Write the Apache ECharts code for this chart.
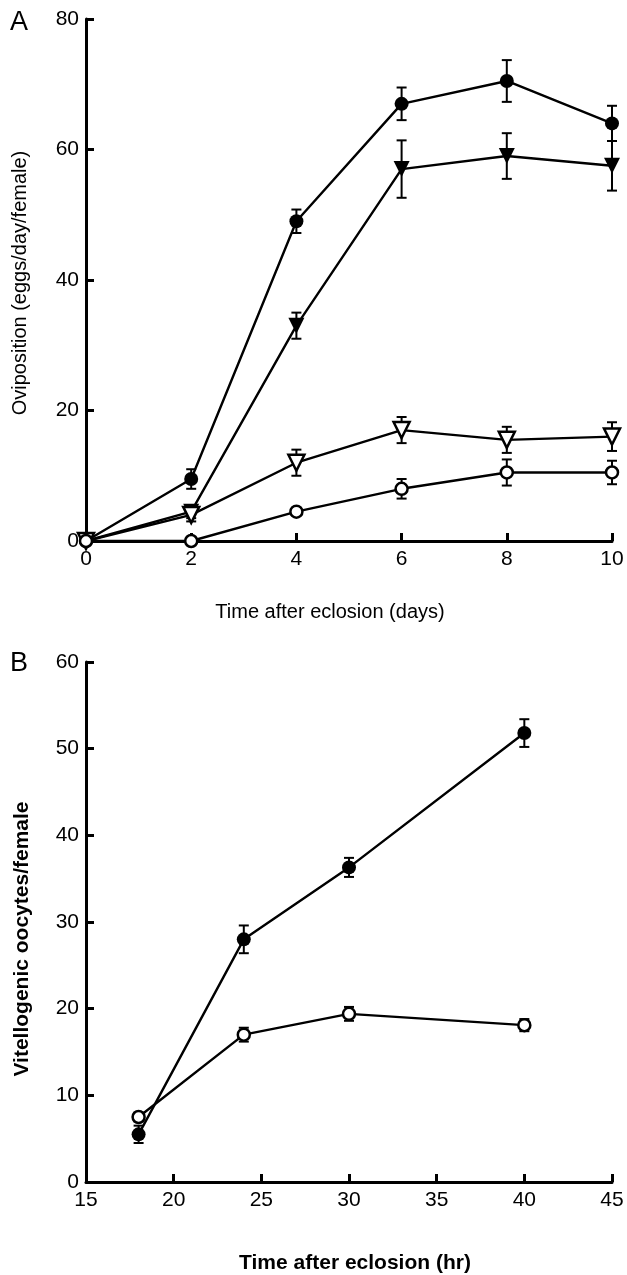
<!DOCTYPE html>
<html><head><meta charset="utf-8">
<script src="https://cdn.jsdelivr.net/npm/echarts@6/dist/echarts.min.js"></script>
<style>html,body{margin:0;padding:0;background:#fff}#c{width:627px;height:1275px}</style>
</head><body><div id="c"></div>
<script>
// Panel A: oviposition vs days
const daysA = [0, 2, 4, 6, 8, 10];
const aFilledCircle = [0, 9.5, 49, 67, 70.5, 64];
const aFilledCircleErr = [0, 1.5, 1.8, 2.5, 3.2, 2.7];
const aFilledTri = [0, 4.5, 33, 57, 59, 57.5];
const aFilledTriErr = [0, 1, 2, 4.4, 3.5, 3.8];
const aOpenTri = [0, 4, 12, 17, 15.5, 16];
const aOpenTriErr = [0, 1, 2, 2, 2, 2.2];
const aOpenCircle = [0, 0, 4.5, 8, 10.5, 10.5];
const aOpenCircleErr = [0, 0, 0.5, 1.5, 2, 1.8];
const aYTicks = [0, 20, 40, 60, 80];
const aXTicks = [0, 2, 4, 6, 8, 10];

// Panel B: vitellogenic oocytes vs hours
const hoursB = [18, 24, 30, 40];
const bFilledCircle = [5.5, 28, 36.3, 51.8];
const bFilledCircleErr = [1, 1.6, 1.1, 1.6];
const bOpenCircle = [7.5, 17, 19.4, 18.1];
const bOpenCircleErr = [0.5, 0.8, 0.8, 0.7];
const bYTicks = [0, 10, 20, 30, 40, 50, 60];
const bXTicks = [15, 20, 25, 30, 35, 40, 45];

const FONT = 'Liberation Sans';
const zip = (xs, ys) => xs.map((x, i) => [x, ys[i]]);
const errData = (xs, ys, es) => xs.map((x, i) => [x, ys[i] - es[i], ys[i] + es[i]]);

function errSeries(idx, xs, ys, es) {
  return {
    type: 'custom', xAxisIndex: idx, yAxisIndex: idx, z: 3,
    data: errData(xs, ys, es).filter(d => d[2] - d[1] > 0.01),
    renderItem: function (params, api) {
      const lo = api.coord([api.value(0), api.value(1)]);
      const hi = api.coord([api.value(0), api.value(2)]);
      const w = 5;
      const st = { stroke: '#000', lineWidth: 2 };
      return { type: 'group', children: [
        { type: 'line', shape: { x1: lo[0], y1: lo[1], x2: hi[0], y2: hi[1] }, style: st },
        { type: 'line', shape: { x1: lo[0] - w, y1: lo[1], x2: lo[0] + w, y2: lo[1] }, style: st },
        { type: 'line', shape: { x1: hi[0] - w, y1: hi[1], x2: hi[0] + w, y2: hi[1] }, style: st }
      ]};
    }
  };
}
function lineSeries(idx, xs, ys, symbol, size, filled, rotate) {
  return {
    type: 'line', xAxisIndex: idx, yAxisIndex: idx, z: 5,
    data: zip(xs, ys), symbol: symbol, symbolSize: size, symbolRotate: rotate || 0,
    showAllSymbol: true,
    lineStyle: { color: '#000', width: 2.4 },
    itemStyle: { color: filled ? '#000' : '#fff', borderColor: '#000', borderWidth: filled ? 0 : 2.5 },
    emphasis: { disabled: true }
  };
}
const axisCommon = {
  axisLine: { show: true, onZero: false, lineStyle: { color: '#000', width: 3 } },
  axisTick: { show: true, inside: true, length: 8, lineStyle: { color: '#000', width: 3 } },
  splitLine: { show: false },
  axisLabel: { color: '#000', fontFamily: FONT, fontSize: 21 }
};

const chart = echarts.init(document.getElementById('c'), null, { renderer: 'canvas' });
chart.setOption({
  animation: false,
  backgroundColor: '#fff',
  grid: [
    { left: 86, right: 15, top: 19, height: 522 },
    { left: 86, right: 15, top: 662, height: 520 }
  ],
  xAxis: [
    Object.assign({}, axisCommon, { type: 'value', gridIndex: 0, min: aXTicks[0], max: aXTicks[aXTicks.length - 1], interval: 2,
      axisLabel: Object.assign({}, axisCommon.axisLabel, { margin: 8 }) }),
    Object.assign({}, axisCommon, { type: 'value', gridIndex: 1, min: bXTicks[0], max: bXTicks[bXTicks.length - 1], interval: 5,
      axisLabel: Object.assign({}, axisCommon.axisLabel, { margin: 8 }) })
  ],
  yAxis: [
    Object.assign({}, axisCommon, { type: 'value', gridIndex: 0, min: aYTicks[0], max: aYTicks[aYTicks.length - 1], interval: 20,
      axisLabel: Object.assign({}, axisCommon.axisLabel, { margin: 7 }) }),
    Object.assign({}, axisCommon, { type: 'value', gridIndex: 1, min: bYTicks[0], max: bYTicks[bYTicks.length - 1], interval: 10,
      axisLabel: Object.assign({}, axisCommon.axisLabel, { margin: 7 }) })
  ],
  series: [
    errSeries(0, daysA, aFilledCircle, aFilledCircleErr),
    errSeries(0, daysA, aFilledTri, aFilledTriErr),
    errSeries(0, daysA, aOpenTri, aOpenTriErr),
    errSeries(0, daysA, aOpenCircle, aOpenCircleErr),
    lineSeries(0, daysA, aFilledCircle, 'circle', 14, true),
    lineSeries(0, daysA, aFilledTri, 'triangle', 16, true, 180),
    lineSeries(0, daysA, aOpenTri, 'triangle', 16, false, 180),
    lineSeries(0, daysA, aOpenCircle, 'circle', 12, false),
    errSeries(1, hoursB, bFilledCircle, bFilledCircleErr),
    errSeries(1, hoursB, bOpenCircle, bOpenCircleErr),
    lineSeries(1, hoursB, bFilledCircle, 'circle', 14, true),
    lineSeries(1, hoursB, bOpenCircle, 'circle', 12, false)
  ],
  graphic: [
    { type: 'text', left: 10, top: 9, style: { text: 'A', font: '27px "' + FONT + '"', fill: '#000' } },
    { type: 'text', left: 10, top: 650, style: { text: 'B', font: '27px "' + FONT + '"', fill: '#000' } },
    { type: 'text', x: 330, y: 612, style: { text: 'Time after eclosion (days)', font: '20px "' + FONT + '"', fill: '#000', align: 'center', verticalAlign: 'middle' } },
    { type: 'text', x: 20, y: 283, rotation: Math.PI / 2, style: { text: 'Oviposition (eggs/day/female)', font: '20px "' + FONT + '"', fill: '#000', align: 'center', verticalAlign: 'middle' } },
    { type: 'text', x: 355, y: 1263, style: { text: 'Time after eclosion (hr)', font: 'bold 21px "' + FONT + '"', fill: '#000', align: 'center', verticalAlign: 'middle' } },
    { type: 'text', x: 22, y: 939, rotation: Math.PI / 2, style: { text: 'Vitellogenic oocytes/female', font: 'bold 21px "' + FONT + '"', fill: '#000', align: 'center', verticalAlign: 'middle' } }
  ]
});
</script></body></html>
